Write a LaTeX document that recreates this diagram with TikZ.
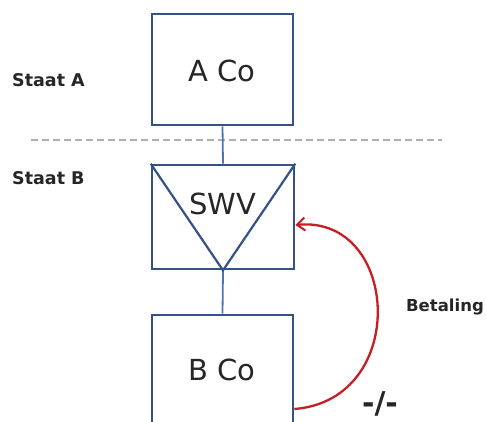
\documentclass[tikz,border=0pt]{standalone}
\usepackage{fontspec}
\setmainfont{DejaVu Sans}
\usetikzlibrary{arrows.meta}
\definecolor{boxblue}{RGB}{52,82,135}
\definecolor{linkblue}{RGB}{80,115,180}
\definecolor{arcred}{RGB}{200,30,35}
\definecolor{dashgray}{RGB}{175,175,175}
\tikzset{
  cobox/.style={draw=boxblue, line width=2.6pt, fill=white, inner sep=0pt},
  cotext/.style={font=\fontsize{29}{32}\selectfont, text=black!85, inner sep=0pt},
  staatlbl/.style={font=\bfseries\fontsize{17.5}{20}\selectfont, text=black!85, anchor=west, inner sep=0pt},
  link/.style={draw=linkblue, line width=1.8pt},
  payarc/.style={draw=arcred, line width=2.3pt, -{Straight Barb[length=8pt,width=13pt,line width=2pt]}},
}
\begin{document}
\begin{tikzpicture}[x=1pt,y=-1pt]
\useasboundingbox (0,0) rectangle (486,421);
\clip (0,0) rectangle (486,421);
% separator
\draw[dashgray, line width=1.6pt, dash pattern=on 7pt off 4pt] (31,140) -- (442,140);
% boxes
\node[cobox, minimum width=141pt, minimum height=111pt] (aco) at (222.5,69.5) {};
\node[cobox, minimum width=142pt, minimum height=104pt] (swv) at (223,217) {};
\node[cobox, minimum width=141pt, minimum height=150pt] (bco) at (222.5,390) {};
% connectors
\draw[link] (aco.south) -- (swv.north);
\draw[link] (swv.south) -- (bco.north);
% triangle in SWV
\draw[boxblue, line width=2.2pt] (swv.north west) -- (swv.south) -- (swv.north east);
% texts
\node[cotext] (acot) at (222,71) {A Co};
\node[cotext] (swvt) at (223,204) {SWV};
\node[cotext] (bcot) at (222,370) {B Co};
\node[staatlbl] (sa) at (12,80) {Staat A};
\node[staatlbl] (sb) at (12,178) {Staat B};
\node[staatlbl, font=\bfseries\fontsize{16.5}{20}\selectfont, anchor=east] (bet) at (484,307) {Betaling};
\node[font=\bfseries\fontsize{30}{32}\selectfont, text=black!85, inner sep=0pt] (neg) at (380,404) {-/-};
% payment arc
\coordinate (arcstart) at (bco.east |- 0,409);
\coordinate (arcend) at (swv.east |- 0,225);
\draw[payarc] (arcstart) .. controls (410,400) and (400,215) .. (arcend);
\end{tikzpicture}
\end{document}
